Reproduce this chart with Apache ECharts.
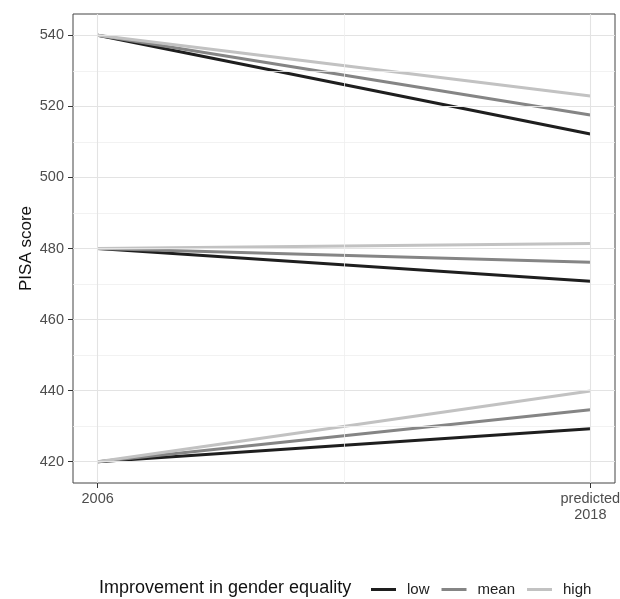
<!DOCTYPE html>
<html><head><meta charset="utf-8">
<script src="https://cdn.jsdelivr.net/npm/echarts@6/dist/echarts.min.js"></script>
<style>html,body{margin:0;padding:0;background:#fff}#c{width:620px;height:599px}</style>
</head><body><div id="c"></div>
<script>
const years = [2006, 2018];
const xTickLabels = ['2006', 'predicted\n2018'];
const yTicks = [420, 440, 460, 480, 500, 520, 540];
const yMinor = [430, 450, 470, 490, 510, 530];
const xMinor = [2012];
const groupNames = ['low', 'mean', 'high'];
const startScores = [540, 480, 420];
const lowEnd = [512.2, 470.8, 429.3];
const meanEnd = [517.6, 476.1, 434.6];
const highEnd = [522.9, 481.4, 439.9];
const colors = {low: '#1e1e1e', mean: '#858585', high: '#c2c2c2'};
const ends = {low: lowEnd, mean: meanEnd, high: highEnd};
const FF = 'Liberation Sans, Arial, sans-serif';

const series = [];
series.push({
  name: 'grid', type: 'line', data: [], z: 1, silent: true,
  markLine: {
    silent: true, symbol: 'none', label: {show: false}, animation: false,
    data: [
      ...yTicks.map(v => ({yAxis: v, lineStyle: {color: '#e3e3e3', width: 1.1, type: 'solid'}})),
      ...yMinor.map(v => ({yAxis: v, lineStyle: {color: '#efefef', width: 0.8, type: 'solid'}})),
      ...years.map(v => ({xAxis: v, lineStyle: {color: '#e3e3e3', width: 1.1, type: 'solid'}})),
      ...xMinor.map(v => ({xAxis: v, lineStyle: {color: '#efefef', width: 0.8, type: 'solid'}}))
    ]
  }
});
groupNames.forEach(g => {
  startScores.forEach((s, i) => {
    series.push({
      name: g, type: 'line', z: 3, symbol: 'none', animation: false,
      lineStyle: {color: colors[g], width: 3},
      itemStyle: {color: colors[g]},
      data: [[years[0], s], [years[1], ends[g][i]]]
    });
  });
});

const chart = echarts.init(document.getElementById('c'));
chart.setOption({
  animation: false,
  title: {
    text: 'Improvement in gender equality', left: 94, top: 574,
    textStyle: {fontSize: 18, fontWeight: 'normal', color: '#111', fontFamily: FF}
  },
  legend: {
    data: groupNames, left: 366, top: 577, icon: 'rect', itemWidth: 25, itemHeight: 3, itemGap: 12,
    textStyle: {fontSize: 15, color: '#222', fontFamily: FF, padding: [0, 0, 0, 6]}
  },
  grid: {left: 73, top: 14, width: 542, height: 469, outerBoundsMode: 'none', containLabel: false,
         show: true, borderColor: '#444', borderWidth: 1, backgroundColor: 'transparent'},
  xAxis: {
    type: 'value', min: 2005.4, max: 2018.6,
    axisLine: {show: false},
    splitLine: {show: false},
    axisTick: {show: true, customValues: years, length: 5, lineStyle: {color: '#333'}},
    axisLabel: {
      customValues: years, margin: 8, color: '#4d4d4d', fontSize: 14.5, lineHeight: 16,
      fontFamily: FF,
      formatter: v => xTickLabels[years.indexOf(v)] || ''
    }
  },
  yAxis: {
    type: 'value', min: 414, max: 546,
    name: 'PISA score', nameLocation: 'middle', nameGap: 38, nameRotate: 90, nameMoveOverlap: false,
    nameTextStyle: {fontSize: 17, color: '#111', fontFamily: FF},
    axisLine: {show: false},
    splitLine: {show: false},
    axisTick: {show: true, customValues: yTicks, length: 5, lineStyle: {color: '#333'}},
    axisLabel: {customValues: yTicks, margin: 9, color: '#4d4d4d', fontSize: 14.5, fontFamily: FF}
  },
  series: series
});
</script></body></html>
